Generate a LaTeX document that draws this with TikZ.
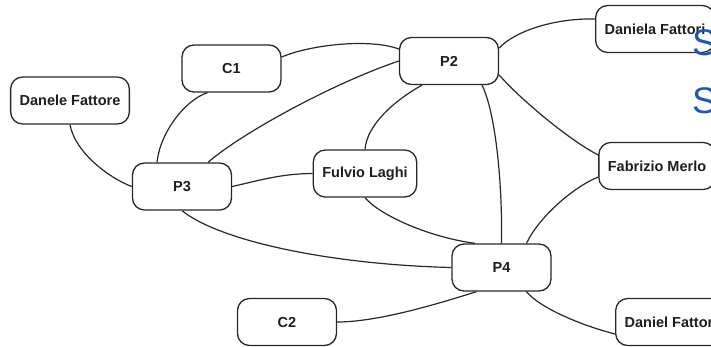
\documentclass[tikz,border=0pt]{standalone}
\usepackage{fontspec}
\setmainfont{Liberation Sans}
\usetikzlibrary{backgrounds}
\definecolor{edgecol}{RGB}{40,40,40}
\definecolor{labelcol}{RGB}{30,30,30}
\definecolor{titleblue}{RGB}{31,90,170}
\tikzset{
  person/.style={draw=edgecol, line width=1.3pt, rounded corners=12pt, fill=white,
    minimum width=99pt, minimum height=47pt, inner xsep=9pt, text=labelcol,
    font=\bfseries\fontsize{14.5}{17}\selectfont},
  link/.style={draw=edgecol, line width=1.2pt},
  heading/.style={text=titleblue, font=\fontsize{37}{40}\selectfont, anchor=base west, inner sep=0pt}
}
\begin{document}
\begin{tikzpicture}[x=1pt, y=-1pt]
\useasboundingbox (0,0) rectangle (711,346);

% people and projects
\node[person] (DF)  at (70,100.5)  {Danele Fattore};
\node[person] (C1)  at (231.5,68.5) {C1};
\node[person] (P2)  at (449,61)    {P2};
\node[person] (DA)  at (655,29)    {Daniela Fattori};
\node[person] (FM)  at (657,166)   {Fabrizio Merlo};
\node[person] (P3)  at (182,186.5) {P3};
\node[person] (FL)  at (365,173.5) {Fulvio Laghi};
\node[person] (P4)  at (501.5,267.5) {P4};
\node[person] (C2)  at (287,322)   {C2};
\node[person] (DN)  at (673,322)   {Daniel Fattore};

% connections, kept behind the boxes
\begin{scope}[on background layer]
\fill[white] (0,0) rectangle (711,346);
\draw[link] (DF.south) .. controls +(5,28) and +(-22,-8) .. (P3.west);
\draw[link] ([xshift=-24pt]C1.south) .. controls +(-22,7) and +(3,-30) .. ([xshift=-25pt]P3.north);
\draw[link] ([yshift=11.5pt]C1.east) .. controls +(28,-12) and +(-30,-11) .. ([yshift=12pt]P2.west);
\draw[link] ([xshift=26pt]P3.north) .. controls +(32,-28) and +(-68,23) .. (P2.west);
\draw[link] (P3.east) .. controls +(23,-5) and +(-32,0) .. (FL.west);
\draw[link] (P3.south) .. controls +(37,30) and +(-122,-3) .. (P4.west);
\draw[link] (FL.north) .. controls +(2,-25) and +(-27,15) .. ([xshift=-27pt]P2.south);
\draw[link] (FL.south) .. controls +(15,18) and +(-45,-6) .. ([xshift=-26.5pt]P4.north);
\draw[link] ([xshift=33pt]P2.south) .. controls +(13,26) and +(1,-64) .. (P4.north);
\draw[link] ([yshift=13pt]P2.east) .. controls +(17,-18) and +(-38,-1) .. ([yshift=10pt]DA.west);
\draw[link] ([yshift=-14pt]P2.east) .. controls +(22,25) and +(-29,-15) .. ([yshift=11pt]FM.west);
\draw[link] ([xshift=25pt]P4.north) .. controls +(11,-24) and +(-27,11) .. ([yshift=-11pt]FM.west);
\draw[link] ([xshift=-25pt]P4.south) .. controls +(-32,10) and +(43,0) .. (C2.east);
\draw[link] ([xshift=25pt]P4.south) .. controls +(13,16) and +(-35,-9) .. ([yshift=-12pt]DN.west);
\end{scope}

% slide titles running in from the right edge
\node[heading] (S1) at (692,55) {S};
\node[heading] (S2) at (692,113) {S};
\end{tikzpicture}
\end{document}
